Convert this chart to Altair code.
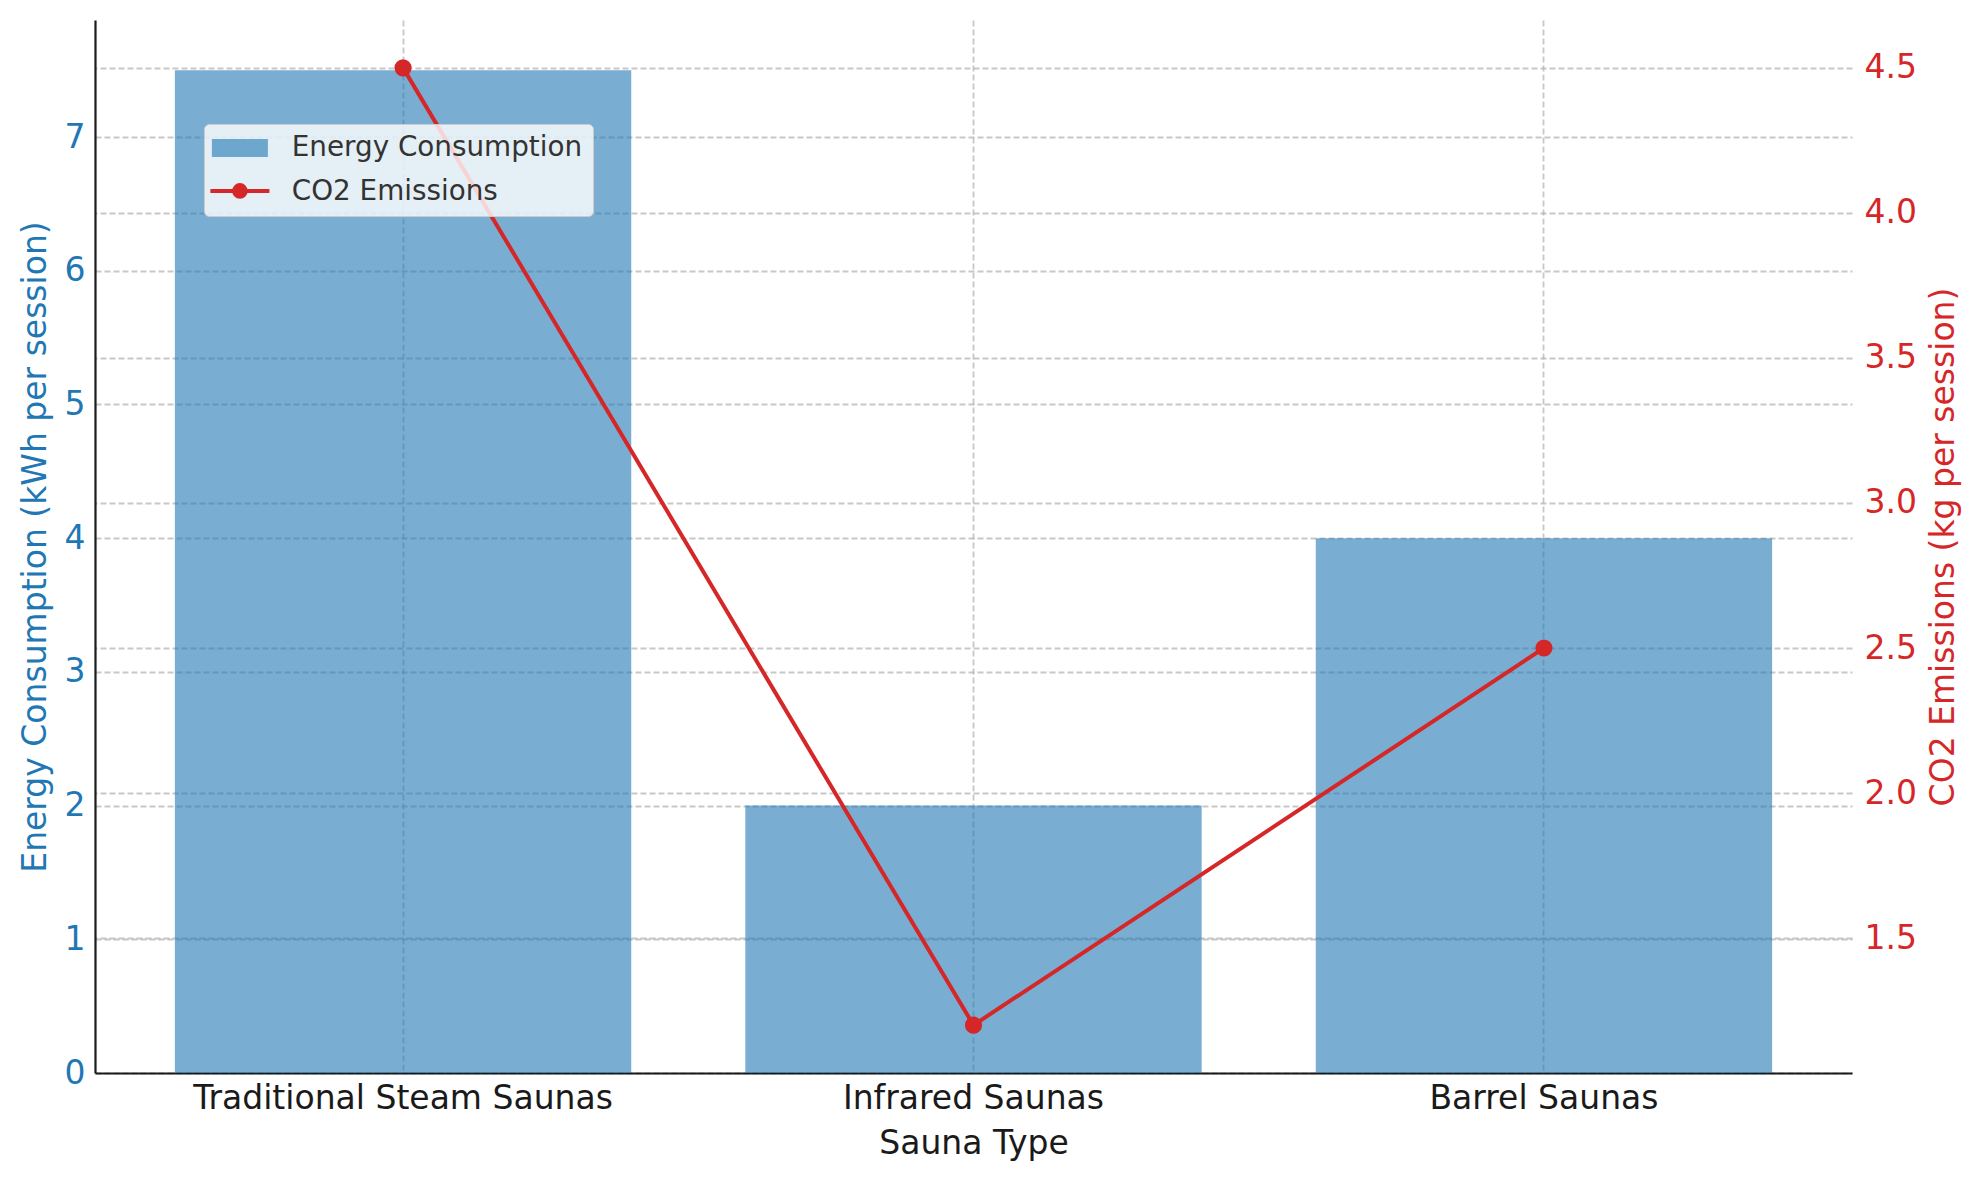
import altair as alt
import pandas as pd

# ---- data ----
sauna_types = ["Traditional Steam Saunas", "Infrared Saunas", "Barrel Saunas"]
energy_kwh = [7.5, 2.0, 4.0]
co2_kg = [4.5, 1.2, 2.5]
energy_ticks = [0, 1, 2, 3, 4, 5, 6, 7]
co2_ticks = [1.5, 2.0, 2.5, 3.0, 3.5, 4.0, 4.5]
series_energy = "Energy Consumption"
series_co2 = "CO2 Emissions"

df = pd.DataFrame({"type": sauna_types, "energy": energy_kwh, "co2": co2_kg})

BLUE = "#1f77b4"
RED = "#d62728"
INK = "#1a1a1a"
FONT = "DejaVu Sans"
W, H = 1757, 1053

grid_common = dict(grid=True, gridColor="#b0b0b0", gridOpacity=0.7,
                   gridDash=[6, 3], gridWidth=1.8)

x_enc = alt.X(
    "type:N", sort=sauna_types, title="Sauna Type",
    scale=alt.Scale(paddingInner=0.2, paddingOuter=0.14),
    axis=alt.Axis(
        labelAngle=0, labelFontSize=33, labelColor=INK, labelPadding=9,
        labelBaseline="top", labelFont=FONT, labelLimit=1000,
        titleFontSize=33, titleFontWeight="normal", titleColor=INK, titleFont=FONT,
        titleX=W / 2, titleY=80, titleBaseline="alphabetic", titleAlign="center",
        domainColor=INK, domainWidth=2.2, bandPosition=0.5, ticks=False,
        **grid_common,
    ),
)

y_left = alt.Y(
    "energy:Q", title="Energy Consumption (kWh per session)",
    scale=alt.Scale(domain=[0, 7.875], nice=False, zero=False),
    axis=alt.Axis(
        orient="left", values=energy_ticks, format="d",
        labelFontSize=33, labelColor=BLUE, labelPadding=10, labelFont=FONT,
        titleFontSize=33, titleColor=BLUE, titleFontWeight="normal", titleFont=FONT,
        titleAngle=270, titleX=-50, titleY=H / 2, titleBaseline="alphabetic",
        titleAlign="center", titleLimit=2000,
        domainColor=INK, domainWidth=2.2, ticks=False,
        **grid_common,
    ),
)

y_right = alt.Y(
    "co2:Q", title="CO2 Emissions (kg per session)",
    scale=alt.Scale(domain=[1.035, 4.665], nice=False, zero=False),
    axis=alt.Axis(
        orient="right", values=co2_ticks, format=".1f",
        labelFontSize=33, labelColor=RED, labelPadding=12, labelFont=FONT,
        titleFontSize=33, titleColor=RED, titleFontWeight="normal", titleFont=FONT,
        titleAngle=270, titleX=101, titleY=H / 2, titleBaseline="alphabetic",
        titleAlign="center", titleLimit=2000,
        domain=False, ticks=False,
        **grid_common,
    ),
)

legend_common = dict(
    title=None, orient="none", legendX=109, direction="vertical",
    padding=10, labelFontSize=27.8, labelFont=FONT, rowPadding=15,
    labelLimit=600, symbolSize=100, symbolOffset=12, labelOffset=38,
)

# box + both labels + bar patch (second row's patch is transparent)
legend_energy = alt.Legend(
    legendY=104, zindex=1,
    fillColor="rgba(255,255,255,0.8)", strokeColor="#cccccc", cornerRadius=5,
    labelColor="#333333",
    labelExpr="datum.label + '\u00a0\u00a0'",
    symbolType="M-5.6,-1.8H5.6V1.8H-5.6Z",
    symbolOpacity=0.6, symbolStrokeWidth=0,
    **legend_common,
)

# line + dot symbol only, laid over the second row of the box above
legend_co2 = alt.Legend(
    legendY=147, zindex=2,
    labelOpacity=0,
    symbolType="M-5.9,0H5.9M-1.16,0A1.16,1.16 0 1,0 1.16,0A1.16,1.16 0 1,0 -1.16,0Z",
    symbolFillColor=RED, symbolStrokeWidth=4, symbolOpacity=1,
    **legend_common,
)

bars = (
    alt.Chart(df)
    .transform_calculate(series=f"'{series_energy}'")
    .mark_bar(opacity=0.6)
    .encode(
        x=x_enc, y=y_left,
        fill=alt.Fill("series:N",
                      scale=alt.Scale(domain=[series_energy, series_co2],
                                      range=[BLUE, "transparent"]),
                      legend=legend_energy),
    )
)

line = (
    alt.Chart(df)
    .transform_calculate(series=f"'{series_co2}'")
    .mark_line(strokeWidth=4,
               point=alt.OverlayMarkDef(filled=True, fill=RED, size=230, opacity=1))
    .encode(
        x=x_enc, y=y_right,
        stroke=alt.Stroke("series:N", scale=alt.Scale(domain=[series_co2], range=[RED]),
                          legend=legend_co2),
    )
)

chart = (
    alt.layer(bars, line)
    .resolve_scale(y="independent", fill="independent", stroke="independent")
    .properties(
        width=W, height=H,
        autosize=alt.AutoSizeParams(type="none"),
        padding={"left": 87, "top": 12, "right": 110, "bottom": 95},
    )
    .configure(font=FONT)
    .configure_view(strokeWidth=0)
)

chart.save("out.html", embed_options={"renderer": "svg", "actions": False})
